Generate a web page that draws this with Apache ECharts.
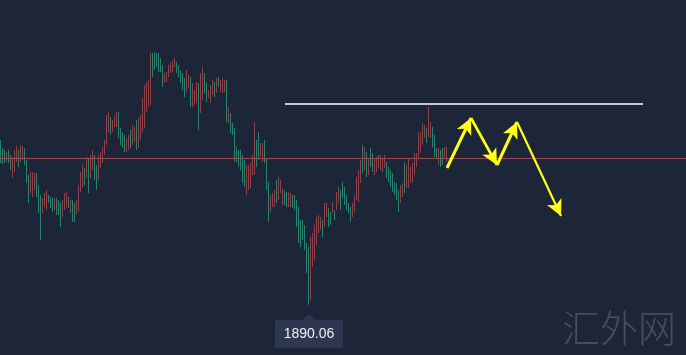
<!DOCTYPE html>
<html><head><meta charset="utf-8">
<script src="https://cdn.jsdelivr.net/npm/echarts@6/dist/echarts.min.js"></script>
<style>html,body{margin:0;padding:0;background:#1d2538;}#c{width:686px;height:355px;}</style>
</head><body><div id="c"></div>
<script>
const slotCount = 343;
const categories = Array.from({length: slotCount}, (_, i) => String(i + 1));
const opens = [1923.0,1921.4,1921.0,1918.6,1921.0,1920.0,1915.4,1916.6,1918.6,1921.0,1918.6,1919.0,1921.4,1919.0,1916.0,1912.4,1911.6,1913.0,1916.4,1914.0,
1912.0,1908.4,1909.6,1909.0,1912.0,1911.6,1911.4,1909.0,1911.4,1911.0,1910.6,1907.6,1909.0,1909.6,1911.6,1908.4,1911.0,1910.4,1908.0,1908.6,
1912.6,1913.4,1917.4,1915.4,1919.4,1915.4,1917.0,1920.0,1918.0,1915.0,1917.4,1918.4,1920.0,1922.0,1924.6,1927.6,1924.6,1925.6,1925.6,1928.6,
1925.4,1924.6,1924.0,1920.6,1921.0,1925.0,1922.0,1922.6,1927.0,1921.4,1923.0,1924.6,1925.4,1928.6,1929.6,1930.0,1940.4,1940.6,1940.4,1940.4,
1939.4,1938.0,1934.4,1934.6,1935.6,1936.4,1936.6,1937.6,1938.6,1938.0,1937.0,1936.4,1935.4,1932.6,1933.4,1935.6,1929.6,1930.0,1930.4,1934.4,
1928.4,1931.0,1936.4,1934.4,1931.4,1930.4,1932.0,1934.6,1932.4,1935.6,1932.6,1932.4,1932.6,1935.0,1926.4,1928.4,1926.4,1925.4,1921.6,1921.0,
1921.0,1920.0,1919.0,1912.0,1913.0,1913.4,1916.0,1916.0,1923.0,1924.6,1919.6,1918.6,1923.0,1919.4,1914.6,1908.6,1909.6,1909.6,1915.0,1911.0,
1912.4,1910.0,1913.0,1912.6,1909.6,1909.6,1912.0,1912.0,1911.0,1909.6,1907.0,1907.0,1906.0,1902.4,1901.6,1891.0,1897.6,1899.0,1902.0,1904.4,
1905.0,1907.0,1905.6,1907.6,1909.4,1908.6,1908.4,1909.0,1909.0,1910.4,1913.0,1914.6,1913.6,1912.0,1910.4,1909.6,1907.6,1908.6,1911.0,1910.6,
1914.4,1922.0,1917.0,1920.6,1916.0,1921.4,1920.4,1916.0,1916.6,1917.4,1917.0,1916.6,1917.4,1918.6,1917.6,1917.0,1916.4,1914.6,1914.4,1913.0,
1910.4,1911.6,1918.6,1913.4,1913.4,1914.4,1914.6,1916.0,1917.6,1919.4,1920.4,1922.0,1923.4,1925.4,1923.6,1923.4,1925.6,1924.0,1921.4,1918.0,
1921.0,1921.4,1919.4,1918.6];
const closes = [1918.4,1918.2,1918.4,1920.6,1918.4,1917.0,1919.6,1921.0,1921.8,1917.6,1922.0,1921.8,1918.0,1914.4,1910.4,1916.6,1916.6,1916.4,1911.6,1908.4,
1903.0,1911.4,1912.4,1913.0,1910.4,1909.4,1908.6,1911.4,1908.0,1908.0,1905.6,1911.0,1912.4,1912.6,1909.4,1911.0,1906.6,1906.6,1911.0,1914.0,
1916.6,1918.0,1914.0,1919.6,1912.4,1920.0,1921.0,1915.0,1913.0,1920.0,1920.6,1921.6,1923.0,1928.0,1928.6,1924.0,1927.0,1928.0,1928.6,1923.4,
1922.0,1921.4,1920.6,1923.4,1924.0,1921.4,1926.0,1925.6,1921.0,1927.4,1928.0,1931.4,1934.0,1934.6,1935.0,1940.4,1935.6,1937.0,1937.6,1936.6,
1936.6,1933.6,1936.4,1936.6,1938.0,1938.4,1939.0,1939.4,1936.4,1935.6,1934.4,1933.0,1931.6,1937.0,1936.0,1929.6,1934.4,1933.0,1934.6,1925.0,
1936.4,1937.6,1932.4,1930.6,1933.0,1934.0,1935.0,1931.6,1935.4,1933.6,1935.0,1935.4,1935.0,1926.6,1929.6,1924.4,1924.0,1918.6,1918.6,1917.6,
1917.0,1914.4,1913.6,1918.0,1918.0,1918.4,1920.0,1926.6,1917.6,1919.0,1922.4,1922.4,1918.4,1913.0,1906.6,1912.0,1912.4,1913.0,1910.4,1915.6,
1915.0,1913.4,1910.0,1909.6,1912.6,1912.4,1909.4,1909.0,1905.6,1902.4,1901.6,1903.0,1901.0,1896.4,1890.06,1903.6,1904.4,1906.0,1907.6,1908.0,
1907.6,1903.6,1910.4,1910.4,1905.6,1906.0,1910.6,1907.0,1912.6,1913.6,1909.0,1911.4,1910.0,1909.0,1908.4,1906.6,1910.4,1912.0,1915.6,1917.0,
1919.0,1916.4,1921.6,1915.6,1919.4,1917.6,1916.6,1919.4,1919.6,1920.0,1920.0,1919.4,1920.0,1915.4,1914.6,1913.6,1912.6,1912.0,1911.0,1908.6,
1914.0,1914.4,1912.4,1918.0,1919.4,1917.6,1918.4,1920.4,1920.4,1924.4,1924.6,1926.4,1926.0,1922.4,1929.6,1926.6,1921.6,1919.6,1919.4,1921.4,
1917.6,1918.0,1921.6,1921.6];
const lows = [1918.4,1918.2,1918.4,1918.6,1918.4,1917.0,1915.4,1916.6,1918.6,1917.6,1918.6,1919.0,1918.0,1914.4,1910.4,1912.4,1911.6,1913.0,1911.6,1908.4,
1903.0,1908.4,1909.6,1909.0,1910.4,1909.4,1908.6,1909.0,1908.0,1908.0,1905.6,1907.6,1909.0,1909.6,1909.4,1908.4,1906.6,1906.6,1908.0,1908.6,
1912.6,1913.4,1914.0,1915.4,1912.4,1915.4,1917.0,1915.0,1913.0,1915.0,1917.4,1918.4,1920.0,1922.0,1924.6,1924.0,1924.6,1925.6,1925.6,1923.4,
1922.0,1921.4,1920.6,1920.6,1921.0,1921.4,1922.0,1922.6,1921.0,1921.4,1923.0,1924.6,1925.4,1928.6,1929.6,1930.0,1935.6,1937.0,1937.6,1936.6,
1936.6,1933.6,1934.4,1934.6,1935.6,1936.4,1936.6,1937.6,1936.4,1935.6,1934.4,1933.0,1931.6,1932.6,1933.4,1929.6,1929.6,1930.0,1930.4,1925.0,
1928.4,1931.0,1932.4,1930.6,1931.4,1930.4,1932.0,1931.6,1932.4,1933.6,1932.6,1932.4,1932.6,1926.6,1926.4,1924.4,1924.0,1918.6,1918.6,1917.6,
1917.0,1914.4,1913.6,1912.0,1913.0,1913.4,1916.0,1916.0,1917.6,1919.0,1919.6,1918.6,1918.4,1913.0,1906.6,1908.6,1909.6,1909.6,1910.4,1911.0,
1912.4,1910.0,1910.0,1909.6,1909.6,1909.6,1909.4,1909.0,1905.6,1902.4,1901.6,1903.0,1901.0,1896.4,1890.06,1891.0,1897.6,1899.0,1902.0,1904.4,
1905.0,1903.6,1905.6,1907.6,1905.6,1906.0,1908.4,1907.0,1909.0,1910.4,1909.0,1911.4,1910.0,1909.0,1908.4,1906.6,1907.6,1908.6,1911.0,1910.6,
1914.4,1916.4,1917.0,1915.6,1916.0,1917.6,1916.6,1916.0,1916.6,1917.4,1917.0,1916.6,1917.4,1915.4,1914.6,1913.6,1912.6,1912.0,1911.0,1908.6,
1910.4,1911.6,1912.4,1913.4,1913.4,1914.4,1914.6,1916.0,1917.6,1919.4,1920.4,1922.0,1923.4,1922.4,1923.6,1923.4,1921.6,1919.6,1919.4,1918.0,
1917.6,1918.0,1919.4,1918.6];
const highs = [1923.0,1921.4,1921.0,1920.6,1921.0,1920.0,1919.6,1921.0,1921.8,1921.0,1922.0,1921.8,1921.4,1919.0,1916.0,1916.6,1916.6,1916.4,1916.4,1914.0,
1912.0,1911.4,1912.4,1913.0,1912.0,1911.6,1911.4,1911.4,1911.4,1911.0,1910.6,1911.0,1912.4,1912.6,1911.6,1911.0,1911.0,1910.4,1911.0,1914.0,
1916.6,1918.0,1917.4,1919.6,1919.4,1920.0,1921.0,1920.0,1918.0,1920.0,1920.6,1921.6,1923.0,1928.0,1928.6,1927.6,1927.0,1928.0,1928.6,1928.6,
1925.4,1924.6,1924.0,1923.4,1924.0,1925.0,1926.0,1925.6,1927.0,1927.4,1928.0,1931.4,1934.0,1934.6,1935.0,1940.4,1940.4,1940.6,1940.4,1940.4,
1939.4,1938.0,1936.4,1936.6,1938.0,1938.4,1939.0,1939.4,1938.6,1938.0,1937.0,1936.4,1935.4,1937.0,1936.0,1935.6,1934.4,1933.0,1934.6,1934.4,
1936.4,1937.6,1936.4,1934.4,1933.0,1934.0,1935.0,1934.6,1935.4,1935.6,1935.0,1935.4,1935.0,1935.0,1929.6,1928.4,1926.4,1925.4,1921.6,1921.0,
1921.0,1920.0,1919.0,1918.0,1918.0,1918.4,1920.0,1926.6,1923.0,1924.6,1922.4,1922.4,1923.0,1919.4,1914.6,1912.0,1912.4,1913.0,1915.0,1915.6,
1915.0,1913.4,1913.0,1912.6,1912.6,1912.4,1912.0,1912.0,1911.0,1909.6,1907.0,1907.0,1906.0,1902.4,1901.6,1903.6,1904.4,1906.0,1907.6,1908.0,
1907.6,1907.0,1910.4,1910.4,1909.4,1908.6,1910.6,1909.0,1912.6,1913.6,1913.0,1914.6,1913.6,1912.0,1910.4,1909.6,1910.4,1912.0,1915.6,1917.0,
1919.0,1922.0,1921.6,1920.6,1919.4,1921.4,1920.4,1919.4,1919.6,1920.0,1920.0,1919.4,1920.0,1918.6,1917.6,1917.0,1916.4,1914.6,1914.4,1913.0,
1914.0,1914.4,1918.6,1918.0,1919.4,1917.6,1918.4,1920.4,1920.4,1924.4,1924.6,1926.4,1926.0,1925.4,1929.6,1926.6,1925.6,1924.0,1921.4,1921.4,
1921.0,1921.4,1921.6,1921.6];
const supportLevel = 1919.4;
const resistanceLevel = 1930.2;
const resistanceFrom = 142, resistanceTo = 321;
const pathIdx = [223, 235, 248, 258, 280];
const pathPrice = [1917.4, 1927.4, 1918.0, 1926.6, 1907.8];
const lowLabel = '1890.06';
const watermark = '汇外网';

const candles = opens.map((o, i) => [o, closes[i], lows[i], highs[i]]);
let lowIdx = 0;
lows.forEach((v, i) => { if (v < lows[lowIdx]) lowIdx = i; });

const arrowWidths = [3, 2.6, 3, 2.2];
const arrows = [];
for (let k = 0; k < pathIdx.length - 1; k++) {
  arrows.push([
    {coord: [pathIdx[k], pathPrice[k]], symbol: 'none', lineStyle: {color: '#ffff1a', width: arrowWidths[k], type: 'solid'}},
    {coord: [pathIdx[k + 1], pathPrice[k + 1]], symbol: 'arrow', symbolSize: [12, 16]}
  ]);
}

const chart = echarts.init(document.getElementById('c'), null, {renderer: 'canvas'});
chart.setOption({
  backgroundColor: '#1d2538',
  animation: false,
  grid: {left: 0, right: 0, top: 0, bottom: 0},
  xAxis: {type: 'category', data: categories, boundaryGap: true, show: false},
  yAxis: {type: 'value', min: 1880, max: 1951, show: false, splitLine: {show: false}},
  series: [{
    type: 'candlestick',
    data: candles,
    barWidth: 1,
    itemStyle: {color: '#d95659', color0: '#33bf97', borderColor: '#d95659', borderColor0: '#33bf97', borderWidth: 0.6},
    markLine: {
      silent: true,
      animation: false,
      symbol: ['none', 'none'],
      label: {show: false},
      data: [
        {yAxis: supportLevel, lineStyle: {color: '#9a4a51', width: 1, type: 'solid'}},
        [{coord: [resistanceFrom, resistanceLevel], lineStyle: {color: '#ffffff', width: 1.6, type: 'solid'}},
         {coord: [resistanceTo, resistanceLevel]}],
        ...arrows
      ]
    }
  }]
});

const p = chart.convertToPixel({seriesIndex: 0}, [lowIdx, lows[lowIdx]]);
const cx = p[0], ty = p[1] + 9;
chart.setOption({
  graphic: [
    {type: 'polygon', shape: {points: [[cx, ty], [cx - 6, ty + 6], [cx + 6, ty + 6]]}, style: {fill: '#2d3750'}},
    {type: 'rect', shape: {x: cx - 34, y: ty + 6, width: 68, height: 28, r: 2}, style: {fill: '#2d3750'}},
    {type: 'text', x: cx, y: ty + 20, style: {text: lowLabel, fill: '#f0f2f6', font: '14px "Liberation Sans", Arial, sans-serif', align: 'center', verticalAlign: 'middle'}},
    {type: 'text', right: 10, bottom: 8, style: {text: watermark, fill: '#454d60', font: '300 38px "Noto Sans CJK SC", sans-serif'}}
  ]
});
</script>
</body></html>
